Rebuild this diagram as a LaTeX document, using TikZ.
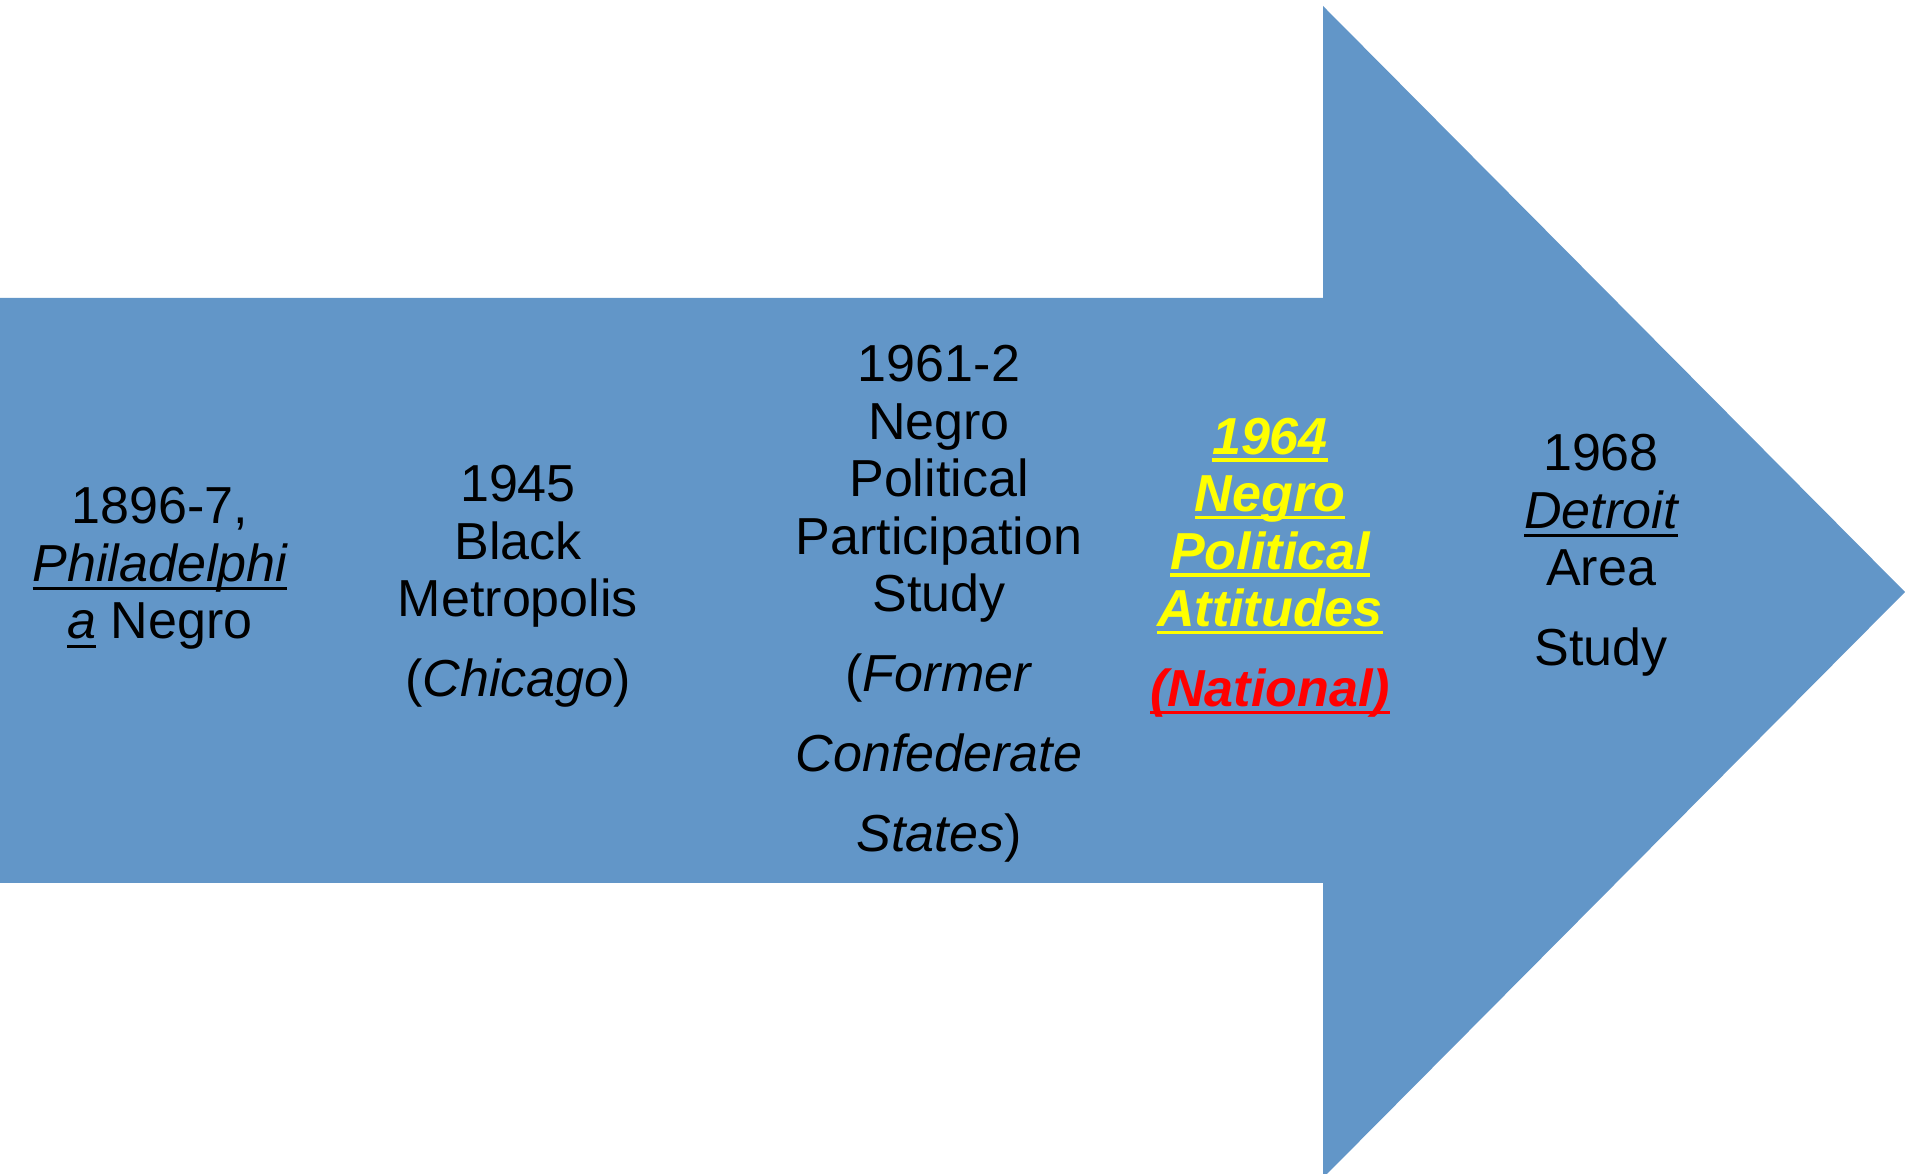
\documentclass[tikz,border=0pt]{standalone}
\usepackage{fontspec}
\setmainfont{Liberation Sans}
\definecolor{arrowblue}{RGB}{98,150,200}
\definecolor{hiyellow}{RGB}{255,255,0}
\definecolor{hired}{RGB}{255,0,0}
\newsavebox\ulbox
\newcommand\ulreg[1]{\sbox\ulbox{#1}\rlap{\rule[-2.56pt]{\wd\ulbox}{0.85pt}}\usebox\ulbox}
\newcommand\ulbold[1]{\sbox\ulbox{#1}\rlap{\rule[-2.05pt]{\wd\ulbox}{0.95pt}}\usebox\ulbox}
\tikzset{
  coltext/.style={anchor=base, inner sep=0pt, align=center, text=black,
    font=\fontsize{14.8pt}{16.36pt}\selectfont},
}
\begin{document}
\begin{tikzpicture}[x=0.01cm, y=-0.01cm]
\useasboundingbox (0,0) rectangle (1905,1174);
\clip (0,0) rectangle (1905,1174);
\fill[arrowblue] (0,298) -- (1323,298) -- (1323,6) -- (1905,592) -- (1323,1178)
  -- (1323,883) -- (0,883) -- cycle;
% anchor=base is the baseline of the last line of each column
\node[coltext] (c1) at (160,639) {1896-7,\\ \ulreg{\itshape Philadelphi}\\ \ulreg{\itshape a} Negro};
\node[coltext] (c2) at (518,697) {1945\\ Black\\ Metropolis\\[6.4pt] (\textit{Chicago})};
\node[coltext] (c3) at (939,852) {1961-2\\ Negro\\ Political\\ Participation\\ Study\\[6.4pt]
  (\textit{Former}\\[6.4pt] \textit{Confederate}\\[6.4pt] \textit{States})};
\node[coltext, text=hiyellow] (c4) at (1270,707) {\bfseries\itshape
  \ulbold{1964}\\ \ulbold{\bfseries\itshape Negro}\\ \ulbold{\bfseries\itshape Political}\\
  \ulbold{\bfseries\itshape Attitudes}\\[6.4pt]
  \textcolor{hired}{\ulbold{\bfseries\itshape (National)}}};
\node[coltext] (c5) at (1601,666) {1968\\ \ulreg{\itshape Detroit}\\ Area\\[6.4pt] Study};
\end{tikzpicture}
\end{document}
